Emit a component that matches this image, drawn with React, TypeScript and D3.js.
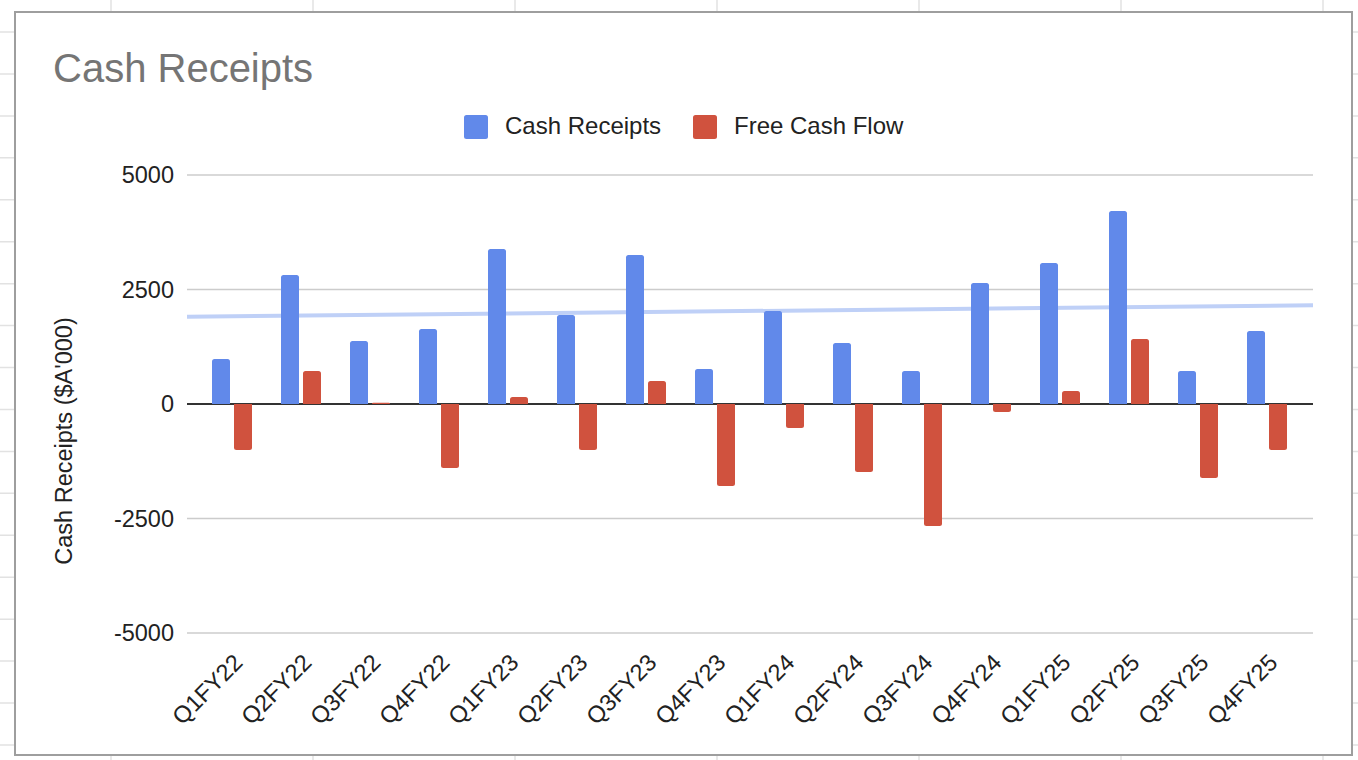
import React from "react";
import * as d3 from "d3";

const categories = [
  "Q1FY22", "Q2FY22", "Q3FY22", "Q4FY22",
  "Q1FY23", "Q2FY23", "Q3FY23", "Q4FY23",
  "Q1FY24", "Q2FY24", "Q3FY24", "Q4FY24",
  "Q1FY25", "Q2FY25", "Q3FY25", "Q4FY25",
];
const cashReceipts = [980, 2817, 1376, 1638, 3384, 1943, 3253, 764, 2031, 1332, 720, 2642, 3079, 4214, 720, 1594];
const freeCashFlow = [-1004, 720, 30, -1397, 153, -1004, 502, -1790, -524, -1485, -2664, -175, 284, 1419, -1616, -1004];
const yTicks = [-5000, -2500, 0, 2500, 5000];
const seriesNames = ["Cash Receipts", "Free Cash Flow"];
const seriesColors = ["#6189EA", "#D0523E"];

const W = 1358;
const H = 760;
const FONT = "'Liberation Sans', Arial, sans-serif";

function barPath(x: number, w: number, y0: number, y1: number, r: number) {
  const h = Math.abs(y1 - y0);
  const rr = Math.min(r, h, w / 2);
  if (y1 <= y0) {
    return `M${x},${y0}V${y1 + rr}Q${x},${y1} ${x + rr},${y1}H${x + w - rr}Q${x + w},${y1} ${x + w},${y1 + rr}V${y0}Z`;
  }
  return `M${x},${y0}V${y1 - rr}Q${x},${y1} ${x + rr},${y1}H${x + w - rr}Q${x + w},${y1} ${x + w},${y1 - rr}V${y0}Z`;
}

export default function App() {
  const plotLeft = 187;
  const plotRight = 1313;
  const y = d3.scaleLinear().domain([-5000, 5000]).range([633, 175]);
  const x = d3
    .scaleBand<string>()
    .domain(categories)
    .range([197.5, 1301.5])
    .paddingInner(29 / 69)
    .paddingOuter(14.5 / 69);
  const xs = d3
    .scaleBand<number>()
    .domain([0, 1])
    .range([0, x.bandwidth()])
    .paddingInner(4 / 22);

  const step = x.step();
  const center = (i: number) => (x(categories[i]) as number) + x.bandwidth() / 2;

  const n = cashReceipts.length;
  const mx = d3.mean(d3.range(n)) as number;
  const my = d3.mean(cashReceipts) as number;
  let sxy = 0;
  let sxx = 0;
  cashReceipts.forEach((v, i) => {
    sxy += (i - mx) * (v - my);
    sxx += (i - mx) * (i - mx);
  });
  const slope = sxy / sxx;
  const idxAt = (px: number) => (px - center(0)) / step;
  const trendVal = (px: number) => my + slope * (idxAt(px) - mx);
  const trendLine = d3.line<number>().x((d) => d).y((d) => y(trendVal(d)));

  const vLines = d3.range(7).map((k) => 111 + k * 202);
  const hLines = d3.range(18).map((k) => 32 + k * 41.94);

  const series = [cashReceipts, freeCashFlow];

  return (
    <svg
      width={W}
      height={H}
      style={{ position: "absolute", left: 0, top: 0, background: "#fff" }}
      fontFamily={FONT}
    >
      {vLines.map((vx) => (
        <line key={"v" + vx} x1={vx} x2={vx} y1={0} y2={H} stroke="#e2e2e2" strokeWidth={1.5} />
      ))}
      {hLines.map((hy) => (
        <line key={"h" + hy} x1={0} x2={W} y1={hy} y2={hy} stroke="#e2e2e2" strokeWidth={1.5} />
      ))}
      <rect x={15} y={12} width={1337} height={743} fill="#fff" stroke="#9e9e9e" strokeWidth={2} />

      <text x={53} y={82} fontSize={40} fill="#757575">
        Cash Receipts
      </text>

      {seriesNames.map((s, i) => {
        const lx = [464, 693][i];
        return (
          <g key={s}>
            <rect x={lx} y={115} width={24} height={24} rx={2.5} fill={seriesColors[i]} />
            <text x={lx + 41} y={134} fontSize={24} fill="#222">
              {s}
            </text>
          </g>
        );
      })}

      {yTicks.map((t) => (
        <g key={t}>
          {t !== 0 && (
            <line x1={plotLeft} x2={plotRight} y1={y(t)} y2={y(t)} stroke="#cccccc" strokeWidth={1.7} />
          )}
          <text x={174} y={y(t)} dy="0.35em" textAnchor="end" fontSize={23.5} fill="#222">
            {t}
          </text>
        </g>
      ))}
      <line x1={plotLeft} x2={plotRight} y1={y(0)} y2={y(0)} stroke="#333333" strokeWidth={2} />

      <path d={trendLine([plotLeft, plotRight]) as string} stroke="#BFD0F7" strokeWidth={4} fill="none" />

      {categories.map((c, i) => (
        <g key={c}>
          {series.map((vals, s) => {
            const bx = (x(c) as number) + (xs(s) as number);
            return (
              <path
                key={s}
                d={barPath(bx, xs.bandwidth(), y(0), y(vals[i]), 2.5)}
                fill={seriesColors[s]}
              />
            );
          })}
        </g>
      ))}

      {categories.map((c, i) => {
        const ax = center(i) + 12;
        const ay = 664;
        return (
          <text
            key={c}
            x={ax}
            y={ay}
            transform={`rotate(-45 ${ax} ${ay})`}
            textAnchor="end"
            fontSize={23.5}
            fill="#222"
          >
            {c}
          </text>
        );
      })}

      <text
        x={72}
        y={441}
        transform="rotate(-90 72 441)"
        textAnchor="middle"
        fontSize={23.5}
        fill="#222"
      >
        {"Cash Receipts ($A'000)"}
      </text>
    </svg>
  );
}
